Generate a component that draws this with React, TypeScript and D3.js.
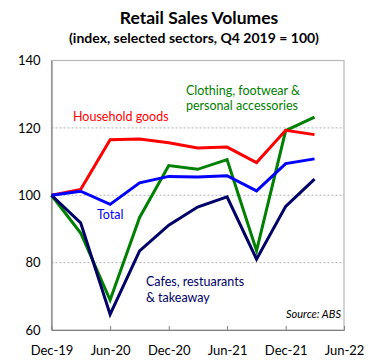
import React, { useRef, useEffect } from 'react'
import * as d3 from 'd3'

// quarterly observations, Dec-19 .. Mar-22
const quarters = ['2019-12', '2020-03', '2020-06', '2020-09', '2020-12', '2021-03', '2021-06', '2021-09', '2021-12', '2022-03']
const household = [100, 101.7, 116.5, 116.7, 115.6, 114.0, 114.3, 109.7, 119.3, 118.0]
const total = [100, 101.2, 97.3, 103.7, 105.6, 105.4, 105.8, 101.3, 109.4, 110.8]
const clothing = [100, 88.8, 68.9, 93.4, 108.8, 107.7, 110.6, 83.5, 119.2, 123.2]
const cafes = [100, 91.8, 64.6, 83.5, 91.1, 96.5, 99.5, 81.0, 96.7, 104.8]

const xTickLabels = ['Dec-19', 'Jun-20', 'Dec-20', 'Jun-21', 'Dec-21', 'Jun-22']
const xTickDates = ['2019-12', '2020-06', '2020-12', '2021-06', '2021-12', '2022-06']
const yTicks = [60, 80, 100, 120, 140]
const gridValues = [80, 100, 120]

const FONT = 'Lato, "Open Sans", sans-serif'

const App = () => {
    const svgRef = useRef<SVGSVGElement>(null)

    useEffect(() => {
        const svg = d3.select(svgRef.current)
        svg.selectAll('*').remove()

        const width = 381
        const height = 364
        const margin = { top: 60.5, right: 37, bottom: 34, left: 51.5 }
        const parse = d3.timeParse('%Y-%m')

        const xScale = d3
            .scaleTime()
            .domain([parse('2019-12') as Date, parse('2022-06') as Date])
            .range([margin.left, width - margin.right])
        const yScale = d3
            .scaleLinear()
            .domain([60, 140])
            .range([height - margin.bottom, margin.top])

        // title
        svg.append('text')
            .attr('x', 199)
            .attr('y', 24)
            .attr('text-anchor', 'middle')
            .style('font-family', FONT)
            .style('font-weight', 'bold')
            .style('font-size', '17.5px')
            .text('Retail Sales Volumes')
        svg.append('text')
            .attr('x', 194)
            .attr('y', 43)
            .attr('text-anchor', 'middle')
            .style('font-family', FONT)
            .style('font-weight', 'bold')
            .style('font-size', '14px')
            .text('(index, selected sectors, Q4 2019 = 100)')

        // gridlines
        svg.append('g')
            .selectAll('line')
            .data(gridValues)
            .enter()
            .append('line')
            .attr('x1', margin.left)
            .attr('x2', width - margin.right)
            .attr('y1', (d) => yScale(d))
            .attr('y2', (d) => yScale(d))
            .attr('stroke', '#b0b0b0')
            .attr('stroke-width', 1)
            .attr('stroke-dasharray', '2,2')

        // frame
        svg.append('rect')
            .attr('x', margin.left)
            .attr('y', margin.top)
            .attr('width', width - margin.right - margin.left)
            .attr('height', height - margin.bottom - margin.top)
            .attr('fill', 'none')
            .attr('stroke', '#b8b8b8')
            .attr('stroke-width', 1.2)

        // y axis
        const yAxis = svg.append('g')
            .attr('transform', `translate(${margin.left}, 0)`)
            .call(d3.axisLeft(yScale).tickValues(yTicks).tickSize(0).tickPadding(11))
        yAxis.select('.domain').attr('stroke', '#808080').attr('stroke-width', 1.2)
        yAxis.selectAll('text')
            .style('font-family', FONT)
            .style('font-size', '13px')
            .attr('fill', '#000')

        // x axis
        const xAxis = svg.append('g')
            .attr('transform', `translate(0, ${height - margin.bottom})`)
            .call(
                d3.axisBottom(xScale)
                    .tickValues(xTickDates.map((d) => parse(d) as Date))
                    .tickFormat((_, i) => xTickLabels[i])
                    .tickSizeInner(-4)
                    .tickSizeOuter(0)
                    .tickPadding(16)
            )
        xAxis.select('.domain').attr('stroke', '#808080').attr('stroke-width', 1.2)
        xAxis.selectAll('.tick line').attr('stroke', '#808080')
        xAxis.selectAll('text')
            .style('font-family', FONT)
            .style('font-size', '13px')
            .attr('fill', '#000')

        const line = d3
            .line<number>()
            .x((_, i) => xScale(parse(quarters[i]) as Date))
            .y((d) => yScale(d))

        const series = [
            { values: clothing, color: '#008000' },
            { values: household, color: '#ff0000' },
            { values: cafes, color: '#000066' },
            { values: total, color: '#0000ff' },
        ]
        series.forEach((s) => {
            svg.append('path')
                .datum(s.values)
                .attr('fill', 'none')
                .attr('stroke', s.color)
                .attr('stroke-width', 3)
                .attr('stroke-linejoin', 'miter')
                .attr('d', line)
        })

        // series labels
        const labels = [
            { text: 'Household goods', x: 73, y: 121, color: '#ff0000' },
            { text: 'Clothing, footwear &', x: 186, y: 95, color: '#008000' },
            { text: 'personal accessories', x: 186, y: 110, color: '#008000' },
            { text: 'Total', x: 97, y: 219, color: '#0000ff' },
            { text: 'Cafes, restuarants', x: 146, y: 286, color: '#000066' },
            { text: '& takeaway', x: 146, y: 302, color: '#000066' },
        ]
        svg.selectAll('.series-label')
            .data(labels)
            .enter()
            .append('text')
            .attr('class', 'series-label')
            .attr('x', (d) => d.x)
            .attr('y', (d) => d.y)
            .attr('fill', (d) => d.color)
            .style('font-family', FONT)
            .style('font-size', '12.5px')
            .text((d) => d.text)

        svg.append('text')
            .attr('x', 341)
            .attr('y', 318)
            .attr('text-anchor', 'end')
            .style('font-family', FONT)
            .style('font-style', 'italic')
            .style('font-size', '11px')
            .text('Source: ABS')
    }, [])

    return (
        <svg
            ref={svgRef}
            width={381}
            height={364}
            style={{ position: 'absolute', left: 0, top: 0, background: '#fff' }}
        />
    )
}

export default App
